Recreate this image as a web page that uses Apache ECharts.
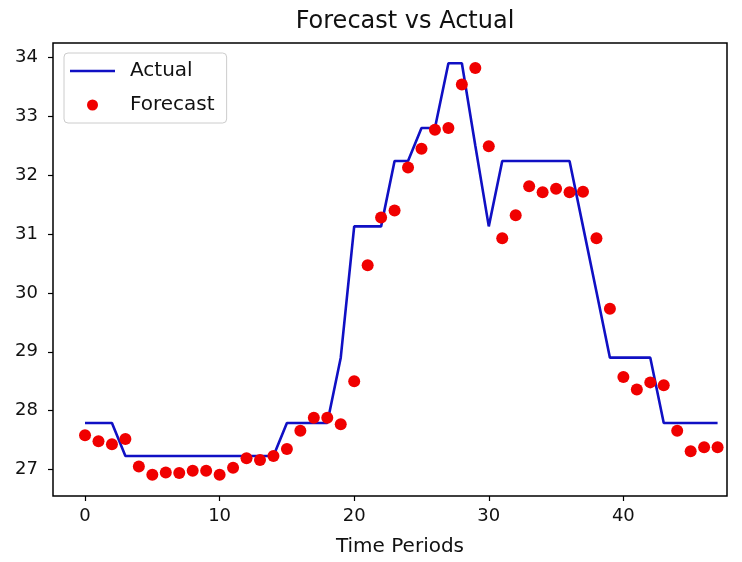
<!DOCTYPE html>
<html>
<head>
<meta charset="utf-8">
<script src="https://cdn.jsdelivr.net/npm/echarts@6/dist/echarts.min.js"></script>
<style>
html,body{margin:0;padding:0;background:#fff;}
#chart{width:742px;height:562px;}
</style>
</head>
<body>
<div id="chart"></div>
<script>
var periods = [];
for (var k = 0; k < 48; k++) periods.push(k);

var actualValues = [27.79, 27.79, 27.79, 27.23, 27.23, 27.23, 27.23, 27.23, 27.23, 27.23,
  27.23, 27.23, 27.23, 27.23, 27.23, 27.79, 27.79, 27.79, 27.79, 28.9,
  31.13, 31.13, 31.13, 32.24, 32.24, 32.8, 32.8, 33.9, 33.9, 32.5,
  31.13, 32.24, 32.24, 32.24, 32.24, 32.24, 32.24, 31.13, 30.02, 28.9,
  28.9, 28.9, 28.9, 27.79, 27.79, 27.79, 27.79, 27.79];

var forecastValues = [27.58, 27.48, 27.43, 27.52, 27.05, 26.91, 26.95, 26.94, 26.98, 26.98,
  26.91, 27.03, 27.19, 27.16, 27.23, 27.35, 27.66, 27.88, 27.88, 27.77,
  28.5, 30.47, 31.28, 31.4, 32.13, 32.45, 32.77, 32.8, 33.54, 33.82,
  32.49, 30.93, 31.32, 31.81, 31.71, 31.77, 31.71, 31.72, 30.93, 29.73,
  28.57, 28.36, 28.48, 28.43, 27.66, 27.31, 27.38, 27.38];

var xTicks = [0, 10, 20, 30, 40];
var yTicks = [27, 28, 29, 30, 31, 32, 33, 34];

var actualData = periods.map(function (p, i) { return [p, actualValues[i]]; });
var forecastData = periods.map(function (p, i) { return [p, forecastValues[i]]; });

var FONT = '"DejaVu Sans", sans-serif';
var BLUE = '#1010c4';
var RED = '#f00000';
var chart = echarts.init(document.getElementById('chart'), null, {renderer: 'canvas'});
chart.setOption({
  animation: false,
  backgroundColor: '#ffffff',
  title: {
    text: 'Forecast vs Actual',
    left: 400, top: 5, textAlign: 'center',
    textStyle: {fontFamily: FONT, fontSize: 24, fontWeight: 'normal', color: '#111'}
  },
  legend: {
    orient: 'vertical',
    left: 64, top: 53,
    padding: [7, 12, 7, 6],
    itemWidth: 45, itemHeight: 11, itemGap: 12,
    borderColor: '#cccccc', borderWidth: 1, borderRadius: 4,
    backgroundColor: '#fff',
    textStyle: {fontFamily: FONT, fontSize: 20, color: '#111', lineHeight: 22, padding: [0, 0, 0, 10]},
    data: [
      {name: 'Actual', icon: 'path://M0,0H90V5H0Z', itemStyle: {color: BLUE}},
      {name: 'Forecast', icon: 'circle', itemStyle: {color: RED, opacity: 1}}
    ]
  },
  grid: {
    left: 53, right: 15, top: 43, bottom: 64,
    show: true, borderColor: '#000', borderWidth: 1.5, backgroundColor: 'transparent'
  },
  xAxis: {
    type: 'value', min: -2.38, max: 47.7,
    name: 'Time Periods', nameLocation: 'middle', nameGap: 41,
    nameTextStyle: {fontFamily: FONT, fontSize: 20, color: '#111', padding: [0, 0, 0, 20]},
    axisLine: {show: false, onZero: false},
    splitLine: {show: false},
    axisTick: {show: true, length: 5, lineStyle: {color: '#000', width: 1.2}, customValues: xTicks},
    axisLabel: {fontFamily: FONT, fontSize: 18, color: '#111', margin: 11, customValues: xTicks}
  },
  yAxis: {
    type: 'value', min: 26.55, max: 34.245,
    axisLine: {show: false, onZero: false},
    splitLine: {show: false},
    axisTick: {show: true, length: 5, lineStyle: {color: '#000', width: 1.2}, customValues: yTicks},
    axisLabel: {fontFamily: FONT, fontSize: 18, color: '#111', margin: 15, customValues: yTicks}
  },
  series: [
    {
      name: 'Actual', type: 'line', data: actualData,
      showSymbol: false, symbol: 'none',
      lineStyle: {color: BLUE, width: 2.6},
      itemStyle: {color: BLUE},
      z: 2
    },
    {
      name: 'Forecast', type: 'scatter', data: forecastData,
      symbol: 'circle', symbolSize: 12,
      itemStyle: {color: RED, opacity: 1},
      z: 3
    }
  ]
});
</script>
</body>
</html>
